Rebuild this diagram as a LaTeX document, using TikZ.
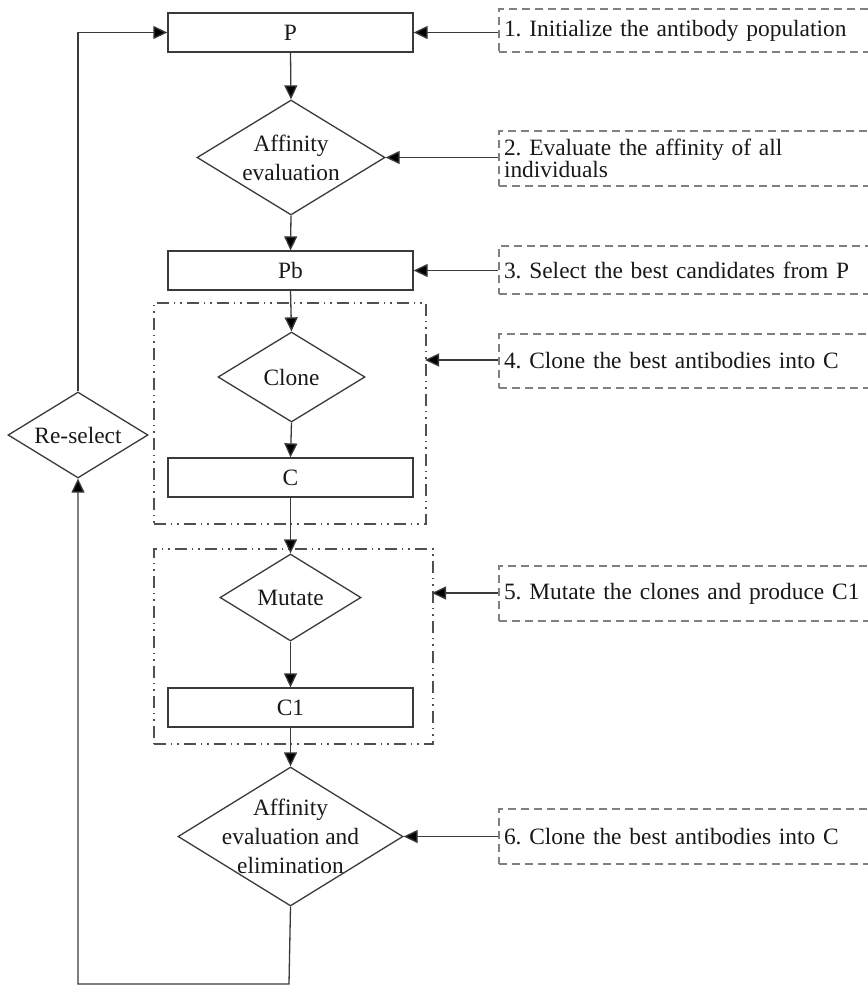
\documentclass[tikz,border=0pt]{standalone}
\usepackage{fontspec}
\setmainfont{Liberation Serif}
\usetikzlibrary{shapes.geometric,arrows.meta}
\definecolor{lineC}{HTML}{3A3A3A}
\definecolor{dashC}{HTML}{808080}
\definecolor{ddC}{HTML}{505050}
\frenchspacing
\begin{document}
\frenchspacing
\begin{tikzpicture}[x=1pt,y=-1pt,
  every node/.style={font=\frenchspacing\fontsize{23.4}{29}\selectfont, text=black!90},
  procbox/.style={draw=lineC, line width=1.3pt, rectangle, minimum width=245pt, minimum height=39pt, inner sep=0pt},
  dia/.style={draw=lineC, line width=1.3pt, diamond, inner sep=0pt},
  notebox/.style={draw=dashC, line width=2pt, dash pattern=on 8pt off 5pt, rectangle, anchor=north west, minimum width=410pt, text width=400pt, align=left, inner xsep=4pt, inner ysep=0pt},
  grpbox/.style={draw=ddC, line width=1.5pt, dash pattern=on 12pt off 5pt on 1.5pt off 5pt on 1.5pt off 5pt},
  conn/.style={draw=lineC, line width=1.3pt},
  arr/.style={conn, -{Triangle[length=14pt,width=13pt,fill=black]}}
]
\clip (0,0) rectangle (868,986);
\fill[white] (0,0) rectangle (868,986);

% main column
\node[procbox] (p) at (290.5,32.5) {P};
\node[dia, minimum width=188pt, minimum height=115pt,
      label={[align=center]center:Affinity\\evaluation}] (a1) at (291,157.5) {};
\node[procbox] (pb) at (290.5,270.5) {Pb};
\node[dia, minimum width=147pt, minimum height=90pt,
      label={center:Clone}] (cl) at (291.5,377) {};
\node[procbox] (c) at (290.5,477.5) {C};
\node[dia, minimum width=141pt, minimum height=87pt,
      label={center:Mutate}] (mu) at (290.5,597.5) {};
\node[procbox] (c1) at (290.5,707.5) {C1};
\node[dia, minimum width=225pt, minimum height=139pt,
      label={[align=center]center:Affinity\\evaluation and\\elimination}] (a3) at (290.5,836.5) {};
\node[dia, minimum width=140pt, minimum height=86pt,
      label={center:Re-select}] (rs) at (78,435) {};

% groups
\node[grpbox, rectangle, inner sep=0pt, minimum width=272pt, minimum height=221pt, anchor=north west] (g1) at (153,302) {};
\node[grpbox, rectangle, inner sep=0pt, minimum width=279pt, minimum height=195pt, anchor=north west] (g2) at (153,548) {};

% note boxes
\node[notebox, minimum height=43pt] (b1) at (498,8) {1. Initialize the antibody population};
\node[notebox, minimum height=55pt, font=\frenchspacing\fontsize{23.4}{21}\selectfont] (b2) at (498,130) {2. Evaluate the affinity of all\\individuals};
\node[notebox, minimum height=48pt] (b3) at (498,245) {3. Select the best candidates from P};
\node[notebox, minimum height=54pt] (b4) at (498,333) {4. Clone the best antibodies into C};
\node[notebox, minimum height=55pt] (b5) at (498,565) {5. Mutate the clones and produce C1};
\node[notebox, minimum height=55pt] (b6) at (498,808) {6. Clone the best antibodies into C};

% flow connectors
\draw[arr] (p.south) -- (a1.north);
\draw[arr] (a1.south) -- (pb.north);
\draw[arr] (pb.south) -- (cl.north);
\draw[arr] (cl.south) -- (c.north);
\draw[arr] (c.south) -- (mu.north);
\draw[arr] (mu.south) -- (c1.north);
\draw[arr] (c1.south) -- (a3.north);
\coordinate (bl) at (289,984);
\draw[arr] (a3.south) -- (bl) -| (rs.south);
\draw[arr] (rs.north) |- (p.west);

% note connectors
\coordinate (g1r) at (425,360);
\coordinate (g2r) at (432,593);
\draw[arr] (b1.west |- p.east) -- (p.east);
\draw[arr] (b2.west |- a1.east) -- (a1.east);
\draw[arr] (b3.west |- pb.east) -- (pb.east);
\draw[arr] (b4.west |- g1r) -- (g1r);
\draw[arr] (b5.west |- g2r) -- (g2r);
\draw[arr] (b6.west |- a3.east) -- (a3.east);
\end{tikzpicture}
\end{document}
